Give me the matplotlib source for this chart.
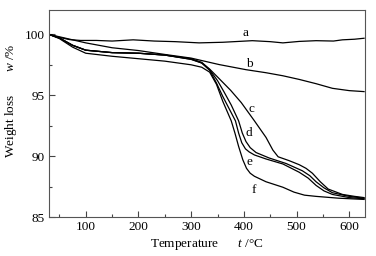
import matplotlib
matplotlib.use("Agg")
import matplotlib.pyplot as plt
from matplotlib.ticker import MultipleLocator

plt.rcParams['font.family'] = ['Liberation Serif', 'DejaVu Serif']
plt.rcParams['mathtext.fontset'] = 'custom'
plt.rcParams['mathtext.rm'] = 'Liberation Serif'
plt.rcParams['mathtext.it'] = 'Liberation Serif:italic'

# TG curves (temperature in C, weight in %)
temp_a = [30, 50, 69, 90, 120, 150, 190, 230, 270, 315, 360, 416, 450, 474, 505, 537, 570, 587, 610, 628]
wt_a = [100.0, 99.75, 99.57, 99.5, 99.5, 99.45, 99.55, 99.45, 99.4, 99.3, 99.35, 99.48, 99.4, 99.3, 99.42, 99.48, 99.45, 99.55, 99.6, 99.68]

temp_b = [30, 50, 70, 100, 150, 200, 250, 300, 353, 404, 442, 474, 505, 537, 568, 600, 628]
wt_b = [100.0, 99.8, 99.6, 99.3, 98.9, 98.67, 98.35, 98.05, 97.52, 97.1, 96.85, 96.6, 96.3, 95.95, 95.57, 95.38, 95.3]

temp_c = [30, 50, 75, 100, 150, 200, 250, 300, 320, 335, 350, 375, 395, 420, 442, 455, 465, 486, 505, 518, 530, 545, 560, 587, 610, 628]
wt_c = [100.0, 99.7, 99.1, 98.7, 98.5, 98.45, 98.3, 98.0, 97.7, 97.15, 96.5, 95.4, 94.4, 92.9, 91.54, 90.5, 89.95, 89.63, 89.3, 89.0, 88.6, 87.9, 87.3, 86.86, 86.7, 86.6]

temp_d = [30, 50, 75, 100, 150, 200, 250, 300, 320, 335, 350, 362, 376, 390, 397, 404, 412, 423, 448, 480, 511, 525, 537, 552, 568, 600, 628]
wt_d = [100.0, 99.7, 99.1, 98.7, 98.5, 98.45, 98.3, 97.95, 97.65, 97.1, 96.2, 95.3, 94.2, 92.9, 91.9, 91.2, 90.7, 90.3, 89.85, 89.4, 88.8, 88.4, 87.9, 87.4, 87.0, 86.7, 86.55]

temp_e = [30, 50, 75, 100, 150, 200, 250, 300, 320, 335, 348, 360, 372, 384, 390, 396, 403, 410, 420, 442, 474, 505, 522, 537, 552, 568, 600, 628]
wt_e = [100.0, 99.7, 99.1, 98.7, 98.5, 98.45, 98.3, 97.95, 97.65, 97.05, 96.0, 94.9, 93.9, 92.9, 91.9, 91.1, 90.6, 90.35, 90.1, 89.77, 89.36, 88.68, 88.2, 87.6, 87.15, 86.86, 86.6, 86.5]

temp_f = [30, 50, 75, 100, 150, 200, 250, 300, 320, 335, 348, 360, 368, 376, 383, 390, 398, 405, 412, 420, 442, 474, 495, 515, 537, 580, 628]
wt_f = [100.0, 99.65, 98.95, 98.45, 98.2, 98.0, 97.8, 97.5, 97.3, 96.9, 95.9, 94.5, 93.7, 92.9, 91.9, 90.8, 89.7, 89.0, 88.6, 88.35, 87.9, 87.45, 87.05, 86.8, 86.7, 86.55, 86.45]

curve_names = ['a', 'b', 'c', 'd', 'e', 'f']
label_x = [403, 410, 414, 410, 410, 418]
label_y = [100.15, 97.6, 93.9, 91.9, 89.55, 87.2]

fig = plt.figure(figsize=(3.76, 2.56), dpi=100)
ax = fig.add_axes([0.130, 0.152, 0.841, 0.809])

for t, w in [(temp_a, wt_a), (temp_b, wt_b), (temp_c, wt_c),
             (temp_d, wt_d), (temp_e, wt_e), (temp_f, wt_f)]:
    ax.plot(t, w, color='black', lw=0.9)

for name, lx, ly in zip(curve_names, label_x, label_y):
    ax.text(lx, ly, name, fontsize=9.5, ha='center', va='center')

ax.set_xlim(30, 630)
ax.set_ylim(85, 102)
ax.xaxis.set_major_locator(MultipleLocator(100))
ax.xaxis.set_minor_locator(MultipleLocator(50))
ax.yaxis.set_major_locator(MultipleLocator(5))
ax.yaxis.set_minor_locator(MultipleLocator(2.5))
ax.tick_params(which='both', direction='in', top=False, right=False,
               labelsize=9.5, color='#444444', width=0.8)
ax.tick_params(which='major', length=4, pad=3)
ax.tick_params(which='minor', length=2.5)
for sp in ax.spines.values():
    sp.set_color('#555555')
    sp.set_linewidth(0.8)

ax.set_xlabel(r'Temperature      $\mathit{t}$ /°C', fontsize=9.5, labelpad=3)
ax.set_ylabel(r'Weight loss       $\mathit{w}$ /%', fontsize=9.5, labelpad=4)
ax.yaxis.set_label_coords(-0.095, 0.56)

fig.savefig('out.png', dpi=100)
